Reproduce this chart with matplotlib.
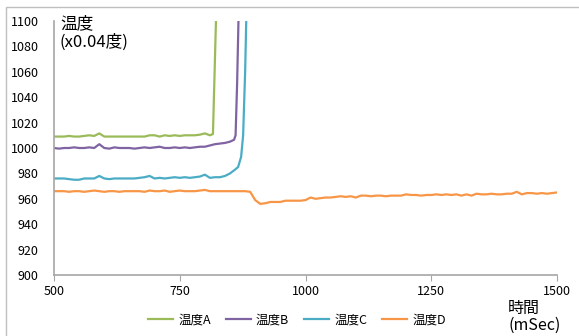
import matplotlib
matplotlib.use("Agg")
import matplotlib.pyplot as plt
import numpy as np
from matplotlib.patches import Rectangle

plt.rcParams["font.family"] = ["Noto Sans CJK JP", "DejaVu Sans"]

# sample times (mSec) and temperatures (x0.04 deg)
t_A = [500, 510, 520, 530, 540, 550, 560, 570, 580, 590, 600, 610, 620, 630,
       640, 650, 660, 670, 680, 690, 700, 710, 720, 730, 740, 750, 760, 770,
       780, 790, 800, 810, 816, 823]
temp_A = [1009, 1009, 1009, 1009.5, 1009, 1009, 1009.5, 1010, 1009.5, 1011.5,
          1009, 1009, 1009, 1009, 1009, 1009, 1009, 1009, 1009, 1010, 1010,
          1009, 1010, 1009.5, 1010, 1009.5, 1010, 1010, 1010, 1010.5, 1011.5,
          1010, 1011, 1115]

t_B = [500, 510, 520, 530, 540, 550, 560, 570, 580, 590, 600, 610, 620, 630,
       640, 650, 660, 670, 680, 690, 700, 710, 720, 730, 740, 750, 760, 770,
       780, 790, 800, 810, 820, 830, 840, 850, 858, 861, 864, 867]
temp_B = [1000, 999.5, 1000, 1000, 1000.5, 1000, 1000, 1000.5, 1000, 1003,
          1000, 999.5, 1000.5, 1000, 1000, 1000, 999.5, 1000, 1000.5, 1000,
          1000.5, 1001, 1000, 1000, 1000.5, 1000, 1000.5, 1000, 1000.5, 1001,
          1001, 1002, 1003, 1003.5, 1004, 1005, 1006.5, 1010, 1050, 1105]

t_C = [500, 510, 520, 530, 540, 550, 560, 570, 580, 590, 600, 610, 620, 630,
       640, 650, 660, 670, 680, 690, 700, 710, 720, 730, 740, 750, 760, 770,
       780, 790, 800, 810, 820, 830, 840, 850, 860, 866, 872, 876, 880, 883]
temp_C = [976, 976, 976, 975.5, 975, 975, 976, 976, 976, 978, 976, 975.5, 976,
          976, 976, 976, 976, 976.5, 977, 978, 976, 976.5, 976, 976.5, 977,
          976.5, 977, 976.5, 977, 977.5, 979, 976.5, 977, 977, 978, 980, 983,
          985, 993, 1010, 1060, 1115]

t_D = list(range(500, 1501, 10))
temp_D = [966, 966, 966, 965.5, 966, 966, 965.5, 966, 966.5, 966,
          965.5, 966, 966, 965.5, 966, 966, 966, 966, 965.5, 966.5,
          966, 966, 966.5, 965.5, 966, 966.5, 966, 966, 966, 966.5,
          967, 966, 966, 966, 966, 966, 966, 966, 966, 965.5,
          959, 956, 956.5, 957.5, 957.5, 957.5, 958.5, 958.5, 958.5, 958.5,
          959, 961, 960, 960.5, 961, 961, 961.5, 962, 961.5, 962,
          961, 962.5, 962.5, 962, 962.5, 962.5, 962, 962.5, 962.5, 962.5,
          963.5, 963, 963, 962.5, 963, 963, 963.5, 963, 963.5, 963,
          963.5, 962.5, 963.5, 962.5, 964, 963.5, 963.5, 964, 963.5, 963.5,
          964, 964, 965.5, 963.5, 964.5, 964.5, 964, 964.5, 964, 964.5,
          965]

series = [("温度A", t_A, temp_A, "#9BBB59"),
          ("温度B", t_B, temp_B, "#8064A2"),
          ("温度C", t_C, temp_C, "#4BACC6"),
          ("温度D", t_D, temp_D, "#F79646")]

fig = plt.figure(figsize=(5.79, 3.36), dpi=100)
ax = fig.add_axes([54 / 579, 1 - 275 / 336, 503 / 579, 254 / 336])

for name, t, v, c in series:
    assert len(t) == len(v)
    ax.plot(t, v, color=c, lw=1.6, label=name)

ax.set_xlim(500, 1500)
ax.set_ylim(900, 1100)
ax.set_xticks([500, 750, 1000, 1250, 1500])
ax.set_yticks(np.arange(900, 1101, 20))

for s in ("top", "right"):
    ax.spines[s].set_visible(False)
for s in ("left", "bottom"):
    ax.spines[s].set_color("#a6a6a6")
    ax.spines[s].set_linewidth(1.2)
ax.tick_params(axis="x", direction="out", length=4, color="#a6a6a6",
               labelsize=9, pad=3)
ax.tick_params(axis="y", length=0, labelsize=9, pad=11)

fig.text(60 / 579, 1 - 15 / 336, "温度\n(x0.04度)", fontsize=12,
         va="top", ha="left", linespacing=1.1)
fig.text(508 / 579, 1 - 300 / 336, "時間\n(mSec)", fontsize=11.5,
         va="top", ha="left", linespacing=1.0)

fig.legend(loc="center", bbox_to_anchor=(297 / 579, 1 - 320 / 336), ncol=4,
           frameon=False, fontsize=9, handlelength=2.0, handletextpad=0.4,
           columnspacing=1.2)

# chart area border
fig.patches.append(Rectangle((6 / 579, -0.1), 1.2, 1.1 - 7 / 336,
                             transform=fig.transFigure, fill=False,
                             edgecolor="#bfbfbf", lw=1.0))

fig.savefig("out.png", dpi=100)
